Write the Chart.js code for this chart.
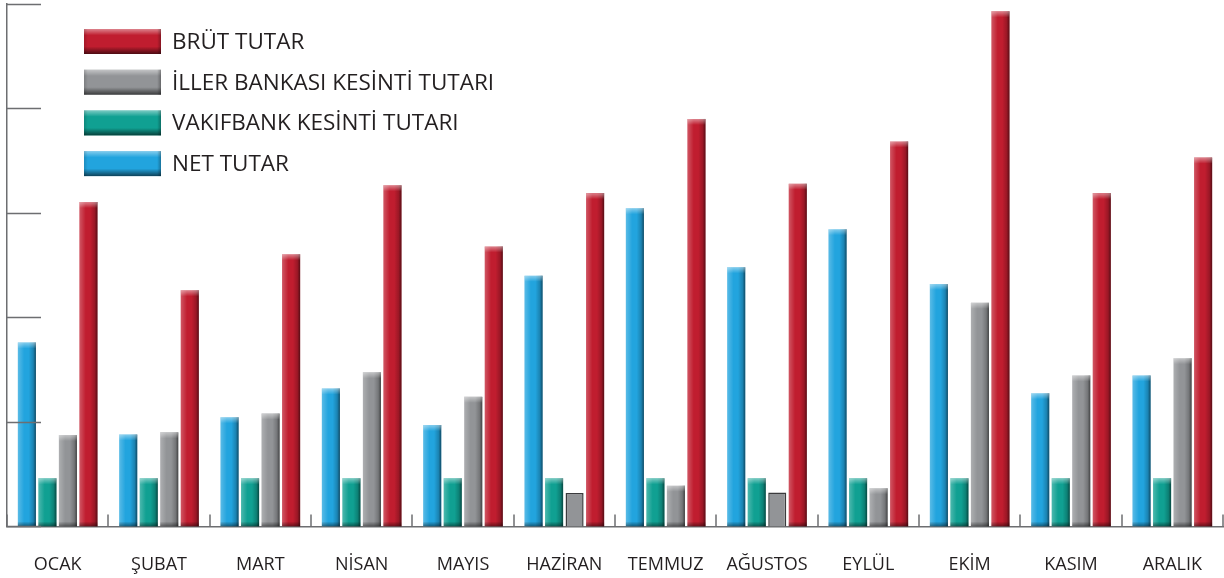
<!DOCTYPE html>
<html lang="tr">
<head>
    <meta charset="UTF-8">
    <title>Aylık Tutarlar</title>
    <script src="https://cdn.jsdelivr.net/npm/chart.js"></script>
    <style>
        body {
            margin: 0;
            background-color: #ffffff;
        }
        #chart {
            display: block;
        }
    </style>
</head>
<body>
    <canvas id="chart" width="1224" height="578"></canvas>

    <script>
        // Data (no axis labels, so units are relative)
        const months = ['OCAK', 'ŞUBAT', 'MART', 'NİSAN', 'MAYIS', 'HAZİRAN', 'TEMMUZ', 'AĞUSTOS', 'EYLÜL', 'EKİM', 'KASIM', 'ARALIK'];
        const netTutar = [176, 88, 104.5, 132, 97, 240, 304.5, 248, 284.5, 232, 127.5, 144.5];
        const vakifbankKesinti = [46, 46, 46, 46, 46, 46, 46, 46, 46, 46, 46, 46];
        const illerBankasiKesinti = [87.5, 90, 108, 147.5, 124, 32, 39, 32.5, 36.5, 214, 144.5, 161];
        const brutTutar = [310.5, 226, 260.5, 326.5, 268, 319, 390, 328, 368.5, 493, 319, 353];
        const yTicks = [0, 100, 200, 300, 400, 500];

        // gray bars drawn flat with a dark outline in the original
        const flatGrayBars = [5, 7];

        const colors = {
            net: '#22a4de',
            vakif: '#10a092',
            iller: '#929497',
            brut: '#c01d2f'
        };

        const axisColor = '#6d6e71';
        const textColor = '#231f20';

        // draws the shading on the bars, the inner tick marks and the legend
        const decorPlugin = {
            id: 'decor',
            afterDatasetsDraw(chart) {
                const ctx = chart.ctx;
                chart.data.datasets.forEach((ds, di) => {
                    const meta = chart.getDatasetMeta(di);
                    meta.data.forEach((bar, i) => {
                        if (di === 2 && flatGrayBars.includes(i)) return;
                        const left = bar.x - bar.width / 2;
                        const top = bar.y;
                        const h = bar.base - bar.y;
                        const w = bar.width;
                        ctx.save();
                        // left highlight, right shadow
                        let g = ctx.createLinearGradient(left, 0, left + w, 0);
                        g.addColorStop(0, 'rgba(255,255,255,0.25)');
                        g.addColorStop(0.35, 'rgba(255,255,255,0)');
                        g.addColorStop(0.6, 'rgba(0,0,0,0)');
                        g.addColorStop(0.85, 'rgba(0,0,0,0.2)');
                        g.addColorStop(1, 'rgba(0,0,0,0.55)');
                        ctx.fillStyle = g;
                        ctx.fillRect(left, top, w, h);
                        // light cap on top
                        g = ctx.createLinearGradient(0, top, 0, top + 6);
                        g.addColorStop(0, 'rgba(255,255,255,0.45)');
                        g.addColorStop(1, 'rgba(255,255,255,0)');
                        ctx.fillStyle = g;
                        ctx.fillRect(left, top, w, Math.min(6, h));
                        // dark foot
                        g = ctx.createLinearGradient(0, bar.base - 5, 0, bar.base);
                        g.addColorStop(0, 'rgba(0,0,0,0)');
                        g.addColorStop(1, 'rgba(0,0,0,0.45)');
                        ctx.fillStyle = g;
                        ctx.fillRect(left, bar.base - 5, w, 5);
                        ctx.restore();
                    });
                });
            },
            afterDraw(chart) {
                const ctx = chart.ctx;
                const area = chart.chartArea;
                const yScale = chart.scales.y;
                const xScale = chart.scales.x;

                ctx.save();
                ctx.strokeStyle = axisColor;
                ctx.lineWidth = 1.5;

                // y ticks pointing into the plot
                yScale.ticks.forEach(t => {
                    const y = Math.round(yScale.getPixelForValue(t.value)) + 0.5;
                    ctx.beginPath();
                    ctx.moveTo(area.left, y);
                    ctx.lineTo(area.left + 34, y);
                    ctx.stroke();
                });

                // short separators between months
                const n = months.length;
                const step = xScale.width / n;
                for (let i = 0; i <= n; i++) {
                    const x = Math.round(xScale.left + i * step);
                    ctx.beginPath();
                    ctx.moveTo(x, area.bottom);
                    ctx.lineTo(x, area.bottom - 12);
                    ctx.stroke();
                }

                // legend, drawn in reverse order like the original
                const items = chart.data.datasets.slice().reverse();
                ctx.font = '22.5px "Open Sans"';
                ctx.textBaseline = 'middle';
                items.forEach((ds, k) => {
                    const bx = 84, bw = 77, bh = 25;
                    const by = 29 + k * 40.7;
                    ctx.fillStyle = ds.backgroundColor;
                    ctx.fillRect(bx, by, bw, bh);
                    let g = ctx.createLinearGradient(0, by, 0, by + bh);
                    g.addColorStop(0, 'rgba(255,255,255,0.45)');
                    g.addColorStop(0.25, 'rgba(255,255,255,0)');
                    g.addColorStop(0.7, 'rgba(0,0,0,0)');
                    g.addColorStop(1, 'rgba(0,0,0,0.6)');
                    ctx.fillStyle = g;
                    ctx.fillRect(bx, by, bw, bh);
                    g = ctx.createLinearGradient(bx, 0, bx + bw, 0);
                    g.addColorStop(0, 'rgba(0,0,0,0.15)');
                    g.addColorStop(0.05, 'rgba(0,0,0,0)');
                    g.addColorStop(0.95, 'rgba(0,0,0,0)');
                    g.addColorStop(1, 'rgba(0,0,0,0.3)');
                    ctx.fillStyle = g;
                    ctx.fillRect(bx, by, bw, bh);

                    ctx.fillStyle = textColor;
                    ctx.fillText(ds.label, 172, by + bh / 2 + 1);
                });
                ctx.restore();
            }
        };

        new Chart(document.getElementById('chart'), {
            type: 'bar',
            data: {
                labels: months,
                datasets: [
                    { label: 'NET TUTAR', data: netTutar, backgroundColor: colors.net },
                    { label: 'VAKIFBANK KESİNTİ TUTARI', data: vakifbankKesinti, backgroundColor: colors.vakif },
                    {
                        label: 'İLLER BANKASI KESİNTİ TUTARI',
                        data: illerBankasiKesinti,
                        backgroundColor: colors.iller,
                        borderColor: '#3b3b3d',
                        borderWidth: ctx => flatGrayBars.includes(ctx.dataIndex) ? 1.5 : 0
                    },
                    { label: 'BRÜT TUTAR', data: brutTutar, backgroundColor: colors.brut }
                ]
            },
            options: {
                responsive: false,
                animation: false,
                layout: {
                    padding: { left: 7, top: 4, right: 1, bottom: 2 }
                },
                datasets: {
                    bar: {
                        categoryPercentage: 0.81,
                        barPercentage: 0.88
                    }
                },
                scales: {
                    x: {
                        // hidden tick marks only used to push the labels down
                        grid: { display: false, drawTicks: true, tickLength: 28 },
                        border: { display: true, color: axisColor, width: 1.5 },
                        ticks: {
                            color: textColor,
                            font: { family: 'Open Sans', size: 18 },
                            padding: 0,
                            maxRotation: 0,
                            autoSkip: false
                        }
                    },
                    y: {
                        min: 0,
                        max: 500,
                        afterBuildTicks: scale => {
                            scale.ticks = yTicks.map(v => ({ value: v }));
                        },
                        grid: { display: false, drawTicks: false },
                        border: { display: true, color: axisColor, width: 1.5 },
                        ticks: { display: false }
                    }
                },
                plugins: {
                    legend: { display: false },
                    tooltip: { enabled: false }
                }
            },
            plugins: [decorPlugin]
        });
    </script>
</body>
</html>
